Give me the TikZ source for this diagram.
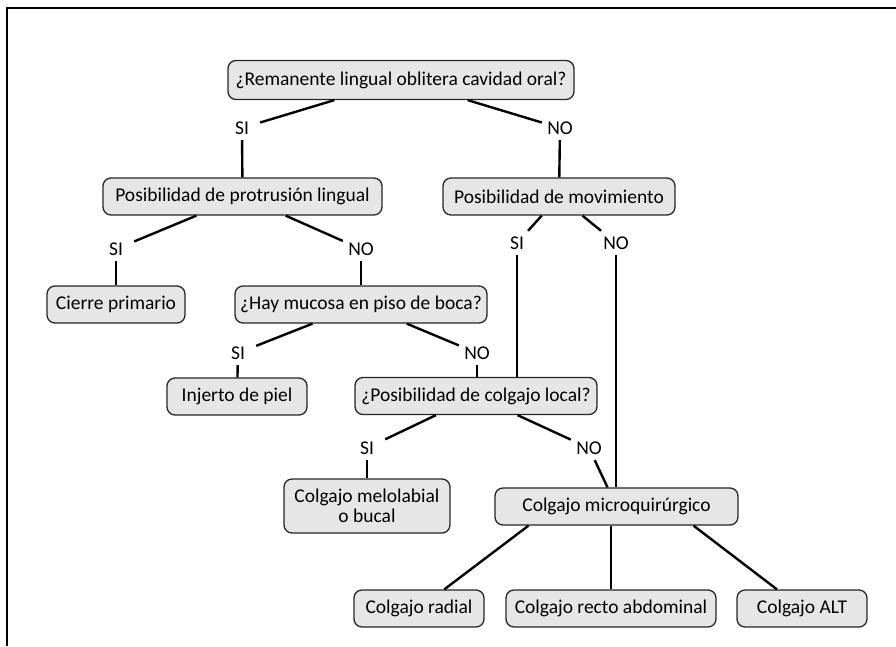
\documentclass[tikz,border=0pt]{standalone}
\usepackage{fontspec}
\setmainfont{Carlito}
\usepackage{xcolor}
\usepackage{tikz}

\definecolor{cajagris}{HTML}{E6E6E6}

\begin{document}
\begin{tikzpicture}[x=1pt, y=-1pt,
    caja/.style={draw=black!85, line width=1.3pt, fill=cajagris, rounded corners=8pt,
        minimum height=37pt, inner xsep=2pt, inner ysep=0pt,
        font=\fontsize{19.5}{22}\selectfont},
    resp/.style={minimum width=36pt, minimum height=24pt, inner sep=0pt,
        font=\fontsize{19.5}{22}\selectfont},
    rama/.style={line width=2.4pt}]
    \useasboundingbox (0,0) rectangle (896,646);

    % Frame, top and left side only
    \draw[line width=2pt] (7,646) -- (7,8) -- (896,8);

    % Questions and outcomes
    \node[caja, minimum width=346pt, minimum height=39pt] (raiz) at (401,80) {¿Remanente lingual oblitera cavidad oral?};
    \node[caja, minimum width=279pt] (prot) at (242.5,196.5) {Posibilidad de protrusión lingual};
    \node[caja, minimum width=232pt] (mov) at (559,196.5) {Posibilidad de movimiento};
    \node[caja, minimum width=138pt] (cierre) at (116,304.5) {Cierre primario};
    \node[caja, minimum width=252pt] (mucosa) at (361,304.5) {¿Hay mucosa en piso de boca?};
    \node[caja, minimum width=140pt] (injerto) at (237,396.5) {Injerto de piel};
    \node[caja, minimum width=242pt] (local) at (476,396) {¿Posibilidad de colgajo local?};
    \node[caja, minimum width=166pt, minimum height=54pt, align=center] (melo) at (367,506) {Colgajo melolabial\\[-2pt]o bucal};
    \node[caja, minimum width=243pt] (micro) at (616.5,506.5) {Colgajo microquirúrgico};
    \node[caja, minimum width=130pt] (radial) at (419,608.5) {Colgajo radial};
    \node[caja, minimum width=210pt] (recto) at (611,608.5) {Colgajo recto abdominal};
    \node[caja, minimum width=130pt] (alt) at (802,608.5) {Colgajo ALT};

    % SI / NO answers
    \node[resp] (si1) at (242,128) {SI};
    \node[resp] (no1) at (560,128) {NO};
    \node[resp] (si2) at (116,249) {SI};
    \node[resp] (no2) at (361,249) {NO};
    \node[resp] (si3) at (517,243) {SI};
    \node[resp] (no3) at (616,243) {NO};
    \node[resp] (si4) at (238,353) {SI};
    \node[resp] (no4) at (477,353) {NO};
    \node[resp] (si5) at (367,448) {SI};
    \node[resp] (no5) at (589,448) {NO};

    % Branches
    \draw[rama] (raiz) -- (si1);
    \draw[rama] (raiz) -- (no1);
    \draw[rama] (si1) -- (prot);
    \draw[rama] (no1) -- (mov);

    \draw[rama] (prot) -- (si2);
    \draw[rama] (prot) -- (no2);
    \draw[rama] (si2) -- (cierre);
    \draw[rama] (no2) -- (mucosa);

    \draw[rama] (mov) -- (si3);
    \draw[rama] (mov) -- (no3);
    \draw[rama] (si3) -- (si3 |- local.north);
    \draw[rama] (no3) -- (no3 |- micro.north);

    \draw[rama] (mucosa) -- (si4);
    \draw[rama] (mucosa) -- (no4);
    \draw[rama] (si4) -- (injerto);
    \draw[rama] (no4) -- (no4 |- local.north);

    \draw[rama] (local) -- (si5);
    \draw[rama] (local) -- (no5);
    \draw[rama] (si5) -- (melo);
    \draw[rama] (no5) -- (micro);

    % Free flap options
    \draw[rama] ([xshift=-88pt]micro.south) -- (radial);
    \draw[rama] (recto |- micro.south) -- (recto);
    \draw[rama] ([xshift=77pt]micro.south) -- (alt);
\end{tikzpicture}
\end{document}
